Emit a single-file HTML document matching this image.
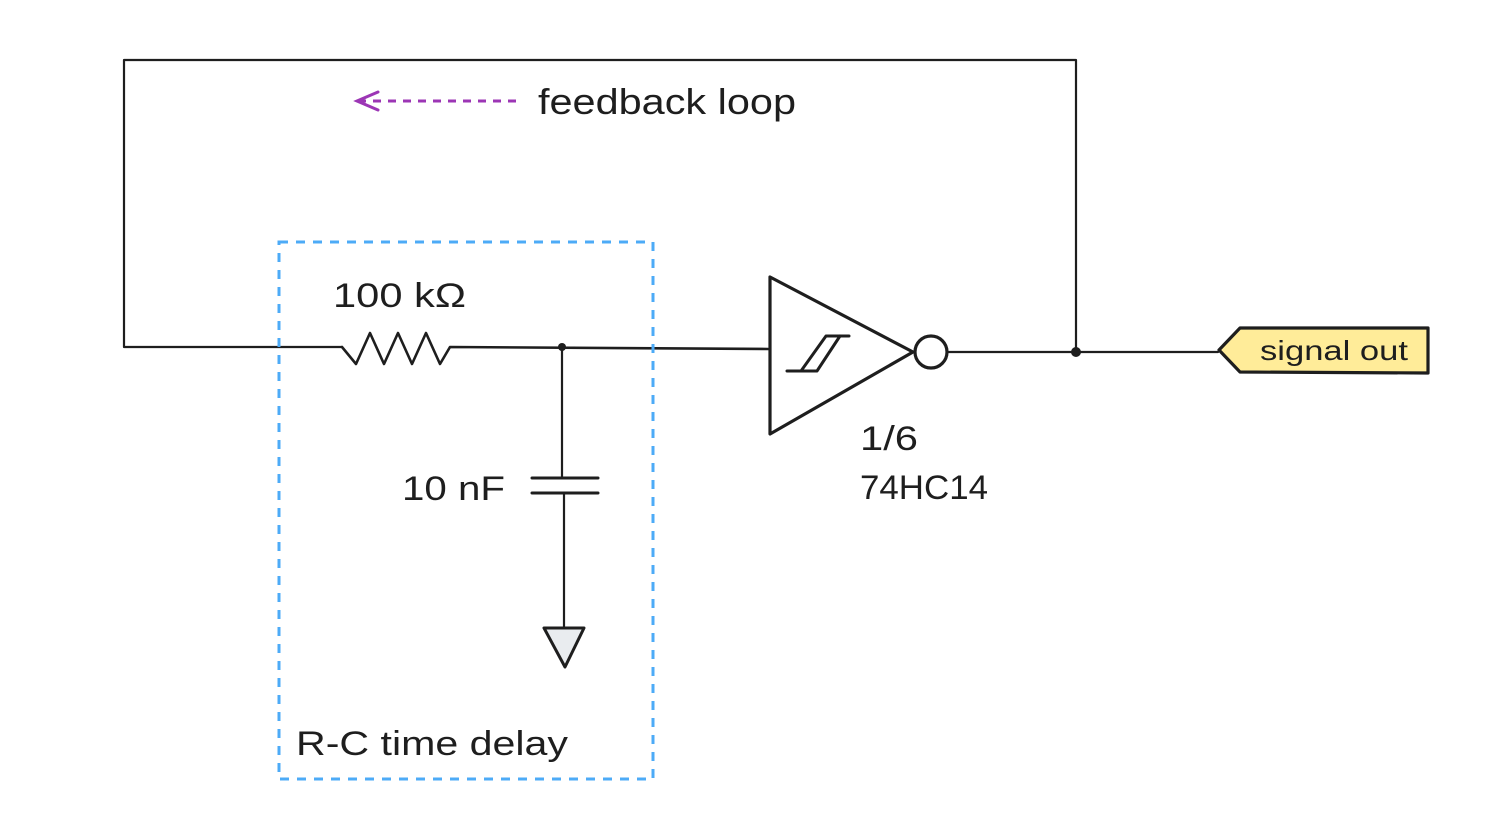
<!DOCTYPE html>
<html><head><meta charset="utf-8"><style>
html,body{margin:0;padding:0;background:#fff;width:1492px;height:819px;overflow:hidden}
text{font-family:"Liberation Sans",sans-serif;fill:#1e1e1e}
</style></head><body>
<svg width="1492" height="819" viewBox="0 0 1492 819" xmlns="http://www.w3.org/2000/svg">
<g fill="none" stroke="#1e1e1e" stroke-width="2.2" stroke-linecap="round" stroke-linejoin="round">
<polyline points="342,347 124,347 124,60 1076,60 1076,352"/>
<polyline points="342,347 356,364 370,333 384,364 398,333 412,364 426,333 440,364 450,347 768,349" stroke-width="2.6"/>
<line x1="562" y1="347" x2="562" y2="477"/>
<line x1="532" y1="478" x2="598" y2="478" stroke-width="3"/>
<line x1="532" y1="493" x2="598" y2="493" stroke-width="3"/>
<line x1="564" y1="494" x2="564" y2="628"/>
<polygon points="544,628 584,628 565,667" fill="#e9ecef" stroke-width="3"/>
<polygon points="770,277 913,352 770,434" stroke-width="3.2"/>
<circle cx="931" cy="352" r="16" stroke-width="3.2"/>
<polyline points="787,371 801,371 826,336 849,336" stroke-width="3"/>
<polyline points="801,371 817,371 840,336" stroke-width="3"/>
<line x1="948" y1="352" x2="1218" y2="352"/>
<polygon points="1219,350 1240,328 1428,328 1428,373 1240,372" fill="#ffec99" stroke-width="3.2"/>
</g>
<circle cx="562" cy="347" r="4" fill="#1e1e1e"/>
<circle cx="1076" cy="352" r="5" fill="#1e1e1e"/>
<rect x="279" y="242" width="374" height="537" fill="none" stroke="#4dabf7" stroke-width="3" stroke-dasharray="9,8"/>
<line x1="358" y1="101" x2="518" y2="101" stroke="#9c36b5" stroke-width="3" stroke-dasharray="8,7"/>
<polyline points="378,92 357,101 378,110" fill="none" stroke="#9c36b5" stroke-width="3" stroke-linecap="round"/>
<text x="538" y="114" font-size="36" textLength="258" lengthAdjust="spacingAndGlyphs">feedback loop</text>
<text x="333" y="307" font-size="34" textLength="133" lengthAdjust="spacingAndGlyphs">100 kΩ</text>
<text x="402" y="500" font-size="34" textLength="103" lengthAdjust="spacingAndGlyphs">10 nF</text>
<text x="860" y="450" font-size="34" textLength="58" lengthAdjust="spacingAndGlyphs">1/6</text>
<text x="860" y="499" font-size="34" textLength="128" lengthAdjust="spacingAndGlyphs">74HC14</text>
<text x="296" y="755" font-size="34" textLength="272" lengthAdjust="spacingAndGlyphs">R-C time delay</text>
<text x="1260" y="360" font-size="28" textLength="148" lengthAdjust="spacingAndGlyphs">signal out</text>
</svg>
</body></html>
